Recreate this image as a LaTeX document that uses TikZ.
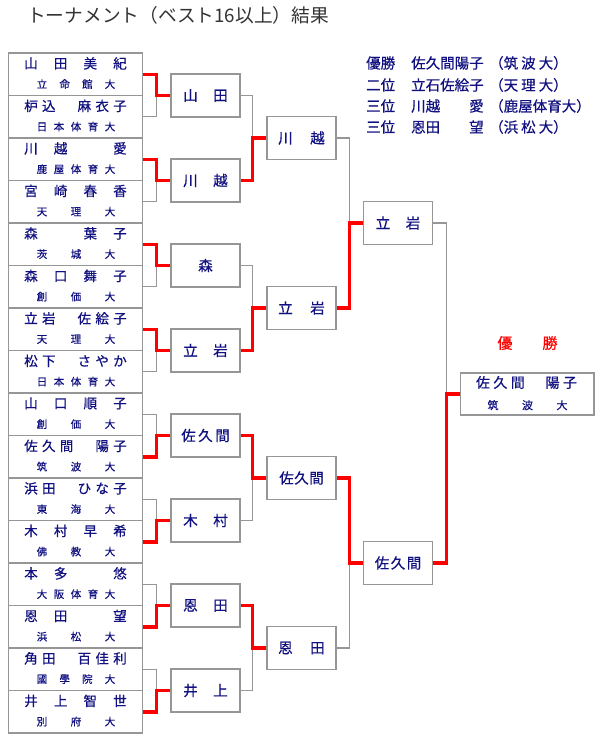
\documentclass[tikz,border=0pt]{standalone}
\usepackage{fontspec}
\newfontfamily\jp{Noto Sans CJK JP}[FakeBold=0.5]
\newfontfamily\jptitle{Noto Sans CJK JP}
\usetikzlibrary{calc}
\definecolor{navy}{RGB}{16,16,128}
\definecolor{boxgray}{RGB}{150,150,150}
\definecolor{wred}{RGB}{255,0,0}
\def\sprfirst#1{#1\sprloop}
\def\sprloop#1{\ifx#1\relax\else\hfil#1\expandafter\sprloop\fi}
\newcommand\spreadbox[2]{\makebox[#1][s]{\expandafter\sprfirst#2\relax}}
\tikzset{
  pbox/.style={draw=boxgray, line width=1.8pt, fill=white, minimum width=134pt, minimum height=42.5pt, inner sep=0pt},
  wbox/.style={draw=boxgray, line width=1.8pt, fill=white, minimum width=69pt, minimum height=43pt, inner sep=0pt, text=navy, font=\jp\fontsize{14.5}{14.5}\selectfont},
  fbox/.style={draw=boxgray, line width=1.8pt, fill=white, minimum width=133.5pt, minimum height=42.5pt, inner sep=0pt},
  pname/.style={text=navy, inner sep=0pt, font=\jp\fontsize{13.5}{13.5}\selectfont},
  puni/.style={text=navy, inner sep=0pt, font=\jp\fontsize{10.5}{10.5}\selectfont},
  listtxt/.style={text=navy, inner sep=0pt, anchor=west, font=\jp\fontsize{14.5}{14.5}\selectfont},
  link/.style={draw=boxgray, line width=1.1pt},
  win/.style={draw=wred, line width=3.5pt},
}
\begin{document}
\begin{tikzpicture}[x=1pt,y=-1pt]
\useasboundingbox (0,0) rectangle (600,750);
\fill[white] (0,0) rectangle (600,750);

% title
\node[anchor=west, inner sep=0pt, text=black!80, font=\jptitle\fontsize{18.7}{18.7}\selectfont] (title) at (27,15) {トーナメント（ベスト16以上）結果};

% result list
\node[listtxt] (l1a) at (366,63) {優勝};
\node[listtxt] (l1b) at (411,63) {佐久間陽子};
\node[listtxt] (l1c) at (489,63) {（筑\hspace{3pt}波\hspace{3pt}大）};
\node[listtxt] (l2a) at (366,85) {二位};
\node[listtxt] (l2b) at (411,85) {立石佐絵子};
\node[listtxt] (l2c) at (489,85) {（天\hspace{3pt}理\hspace{3pt}大）};
\node[listtxt] (l3a) at (366,106) {三位};
\node[listtxt] (l3b) at (411,106) {川越　　愛};
\node[listtxt] (l3c) at (489,106) {（鹿屋体育大）};
\node[listtxt] (l4a) at (366,127) {三位};
\node[listtxt] (l4b) at (411,127) {恩田　　望};
\node[listtxt] (l4c) at (489,127) {（浜\hspace{3pt}松\hspace{3pt}大）};

% players
\foreach \i/\nme/\uni in {1/山田美紀/立命館大, 2/枦込　麻衣子/日本体育大, 3/川越　愛/鹿屋体育大, 4/宮崎春香/天理大, 5/森　葉子/茨城大, 6/森口舞子/創価大, 7/立岩　佐絵子/天理大, 8/松下　さやか/日本体育大, 9/山口順子/創価大, 10/佐久間　陽子/筑波大, 11/浜田　ひな子/東海大, 12/木村早希/佛教大, 13/本多　悠/大阪体育大, 14/恩田　望/浜松大, 15/角田　百佳利/國學院大, 16/井上智世/別府大}{
  \node[pbox] (p\i) at (75.5, 31.75+42.5*\i) {};
  \node[pname] (p\i n) at ($(p\i.north)+(0,11.3)$) {\spreadbox{102.5pt}{\nme}};
  \node[puni] (p\i u) at ($(p\i.north)+(0.5,32)$) {\spreadbox{78.5pt}{\uni}};
}

% round 2
\node[wbox] (q1) at (205.5,95.5) {\spreadbox{44.5pt}{山田}};
\node[wbox] (q2) at (205.5,180.5) {\spreadbox{44.5pt}{川越}};
\node[wbox] (q3) at (205.5,265.5) {森};
\node[wbox] (q4) at (205.5,350.5) {\spreadbox{44.5pt}{立岩}};
\node[wbox] (q5) at (205.5,435.5) {\spreadbox{48.5pt}{佐久間}};
\node[wbox] (q6) at (205.5,520.5) {\spreadbox{44.5pt}{木村}};
\node[wbox] (q7) at (205.5,605.5) {\spreadbox{44.5pt}{恩田}};
\node[wbox] (q8) at (205.5,690.5) {\spreadbox{44.5pt}{井上}};

% round 3
\node[wbox] (r1) at (301.5,138) {\spreadbox{46.5pt}{川越}};
\node[wbox] (r2) at (301.5,308) {\spreadbox{46.5pt}{立岩}};
\node[wbox] (r3) at (301.5,478) {\spreadbox{44.5pt}{佐久間}};
\node[wbox] (r4) at (301.5,648) {\spreadbox{46.5pt}{恩田}};

% round 4
\node[wbox] (s1) at (398,223) {\spreadbox{44.5pt}{立岩}};
\node[wbox] (s2) at (398,563) {\spreadbox{46.5pt}{佐久間}};

% final
\node[fbox] (f) at (527.3,394) {};
\node[pname, font=\jp\fontsize{14}{14}\selectfont] (fn) at ($(f.north)+(-0.8,10.6)$) {\spreadbox{101pt}{佐久間　陽子}};
\node[puni, font=\jp\fontsize{11}{11}\selectfont] (fu) at ($(f.north)+(0.2,33.3)$) {\spreadbox{80pt}{筑波大}};
\node[inner sep=0pt, text=wred, font=\jp\fontsize{15}{15}\selectfont] (champ) at (527.5,343) {\spreadbox{60pt}{優　勝}};

% round 1 connectors
\foreach \k/\u/\l/\w in {1/1/2/1, 2/3/4/3, 3/5/6/5, 4/7/8/7, 5/9/10/10, 6/11/12/12, 7/13/14/14, 8/15/16/16}{
  \coordinate (a\k) at (156.7, 10.5+85*\k);
  \draw[link] (p\u.east) -| (a\k) |- (p\l.east);
  \draw[link] (a\k) -- (q\k.west);
  \draw[win] (p\w.east) -| (a\k) -- (q\k.west);
}
% round 2 connectors
\foreach \j/\u/\l/\w in {1/1/2/2, 2/3/4/4, 3/5/6/5, 4/7/8/7}{
  \coordinate (b\j) at (252.7, -32+170*\j);
  \draw[link] (q\u.east) -| (b\j) |- (q\l.east);
  \draw[link] (b\j) -- (r\j.west);
  \draw[win] (q\w.east) -| (b\j) -- (r\j.west);
}
% round 3 connectors
\coordinate (c1) at (349.3,223);
\coordinate (c2) at (349.3,563);
\draw[link] (r1.east) -| (c1) |- (r2.east);
\draw[link] (c1) -- (s1.west);
\draw[win] (r2.east) -| (c1) -- (s1.west);
\draw[link] (r3.east) -| (c2) |- (r4.east);
\draw[link] (c2) -- (s2.west);
\draw[win] (r3.east) -| (c2) -- (s2.west);
% final connectors
\coordinate (d) at (446.7,394);
\draw[link] (s1.east) -| (d) |- (s2.east);
\draw[link] (d) -- (f.west);
\draw[win] (s2.east) -| (d) -- (f.west);
\end{tikzpicture}
\end{document}
